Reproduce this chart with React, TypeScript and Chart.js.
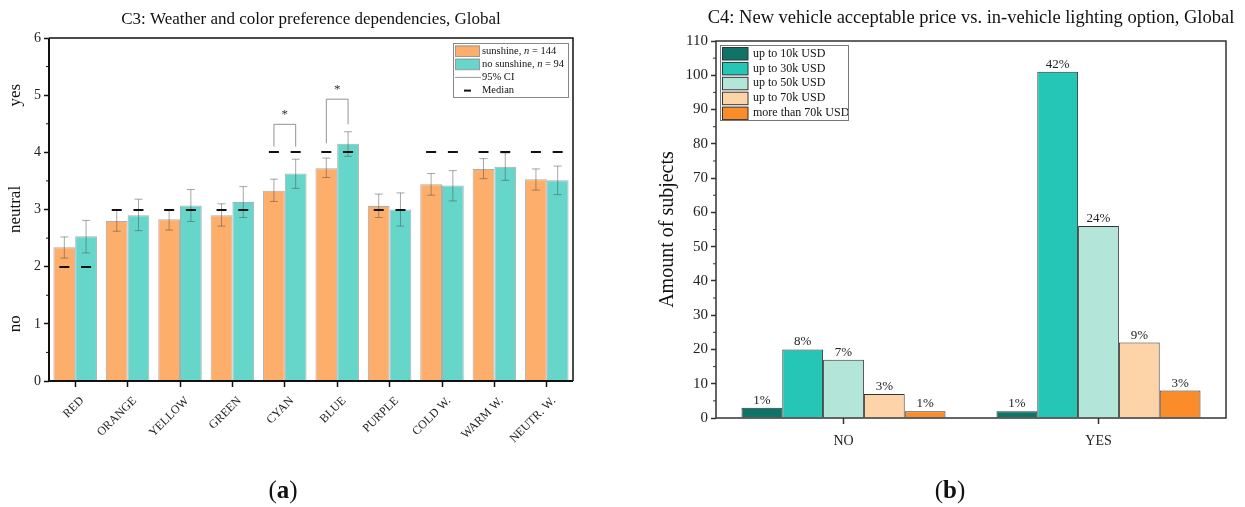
import React, { useEffect, useRef } from "react";
import { Chart, registerables } from "chart.js";

Chart.register(...registerables);

// ---------- Panel (a) data ----------
const colorCategories = ["RED", "ORANGE", "YELLOW", "GREEN", "CYAN", "BLUE", "PURPLE", "COLD W.", "WARM W.", "NEUTR. W."];
const sunshineMean = [2.34, 2.8, 2.83, 2.9, 3.33, 3.72, 3.06, 3.44, 3.71, 3.53];
const noSunshineMean = [2.53, 2.9, 3.07, 3.13, 3.63, 4.15, 3.0, 3.42, 3.75, 3.51];
const sunshineCiLow = [2.15, 2.62, 2.64, 2.71, 3.14, 3.56, 2.86, 3.25, 3.54, 3.34];
const sunshineCiHigh = [2.52, 2.99, 3.0, 3.1, 3.53, 3.9, 3.27, 3.63, 3.89, 3.71];
const noSunshineCiLow = [2.24, 2.63, 2.79, 2.86, 3.37, 3.93, 2.71, 3.15, 3.51, 3.26];
const noSunshineCiHigh = [2.81, 3.18, 3.35, 3.4, 3.88, 4.36, 3.29, 3.68, 3.99, 3.76];
const sunshineMedian = [2, 3, 3, 3, 4, 4, 3, 4, 4, 4];
const noSunshineMedian = [2, 3, 3, 3, 4, 4, 3, 4, 4, 4];
const significantIndex = [4, 5];
const bracketTop = [4.49, 4.93];
const bracketLeftEnd = [4.1, 4.16];
const bracketRightEnd = [4.1, 4.49];
const leftYTicks = [0, 1, 2, 3, 4, 5, 6];
const leftYWords = [
  { text: "no", value: 1 },
  { text: "neutral", value: 3 },
  { text: "yes", value: 5 },
];

// ---------- Panel (b) data ----------
const answerCategories = ["NO", "YES"];
const priceLabels = ["up to 10k USD", "up to 30k USD", "up to 50k USD", "up to 70k USD", "more than 70k USD"];
const upTo10k = [3, 2];
const upTo30k = [20, 101];
const upTo50k = [17, 56];
const upTo70k = [7, 22];
const moreThan70k = [2, 8];
const upTo10kPct = ["1%", "1%"];
const upTo30kPct = ["8%", "42%"];
const upTo50kPct = ["7%", "24%"];
const upTo70kPct = ["3%", "9%"];
const moreThan70kPct = ["1%", "3%"];

const SERIF = "'Liberation Serif', 'DejaVu Serif', serif";
const ORANGE = "rgb(253,174,107)";
const TEAL = "rgb(102,214,203)";
const PRICE_COLORS = ["rgb(14,116,104)", "rgb(38,198,182)", "rgb(179,230,216)", "rgb(253,212,168)", "rgb(251,140,42)"];

const leftDeco = {
  id: "leftDeco",
  afterDatasetsDraw(chart: any) {
    const ctx = chart.ctx;
    const ys = chart.scales.y;
    const m0 = chart.getDatasetMeta(0);
    const m1 = chart.getDatasetMeta(1);
    ctx.save();
    ctx.strokeStyle = "rgba(80,80,80,0.5)";
    ctx.lineWidth = 1;
    const ci = (x: number, lo: number, hi: number) => {
      const y1 = ys.getPixelForValue(lo);
      const y2 = ys.getPixelForValue(hi);
      ctx.beginPath();
      ctx.moveTo(x, y1);
      ctx.lineTo(x, y2);
      ctx.moveTo(x - 4, y1);
      ctx.lineTo(x + 4, y1);
      ctx.moveTo(x - 4, y2);
      ctx.lineTo(x + 4, y2);
      ctx.stroke();
    };
    colorCategories.forEach((_, i) => {
      ci(m0.data[i].x, sunshineCiLow[i], sunshineCiHigh[i]);
      ci(m1.data[i].x, noSunshineCiLow[i], noSunshineCiHigh[i]);
    });
    ctx.strokeStyle = "#111";
    ctx.lineWidth = 2;
    const med = (x: number, v: number) => {
      const y = Math.round(ys.getPixelForValue(v));
      ctx.beginPath();
      ctx.moveTo(x - 5, y);
      ctx.lineTo(x + 5, y);
      ctx.stroke();
    };
    colorCategories.forEach((_, i) => {
      med(m0.data[i].x, sunshineMedian[i]);
      med(m1.data[i].x, noSunshineMedian[i]);
    });
    ctx.strokeStyle = "rgba(120,120,120,0.8)";
    ctx.lineWidth = 1;
    significantIndex.forEach((idx, k) => {
      const xl = m0.data[idx].x;
      const xr = m1.data[idx].x;
      const yt = ys.getPixelForValue(bracketTop[k]);
      ctx.beginPath();
      ctx.moveTo(xl, ys.getPixelForValue(bracketLeftEnd[k]));
      ctx.lineTo(xl, yt);
      ctx.lineTo(xr, yt);
      ctx.lineTo(xr, ys.getPixelForValue(bracketRightEnd[k]));
      ctx.stroke();
      ctx.fillStyle = "#333";
      ctx.font = `13px ${SERIF}`;
      ctx.textAlign = "center";
      ctx.textBaseline = "middle";
      ctx.fillText("*", (xl + xr) / 2, yt - 10);
    });
    ctx.restore();
  },
  afterDraw(chart: any) {
    const ctx = chart.ctx;
    const { left, right, top, bottom } = chart.chartArea;
    const ys = chart.scales.y;
    const xs = chart.scales.x;
    ctx.save();
    ctx.strokeStyle = "#111";
    ctx.lineWidth = 1.5;
    ctx.beginPath();
    ctx.moveTo(left, top);
    ctx.lineTo(right, top);
    ctx.lineTo(right, bottom);
    ctx.stroke();
    ctx.lineWidth = 2;
    ctx.beginPath();
    ctx.moveTo(left, top);
    ctx.lineTo(left, bottom);
    ctx.lineTo(right, bottom);
    ctx.stroke();
    ctx.lineWidth = 1;
    for (let v = 0.5; v < 6; v += 1) {
      const y = ys.getPixelForValue(v);
      ctx.beginPath();
      ctx.moveTo(left - 3, y);
      ctx.lineTo(left, y);
      ctx.stroke();
    }
    // rotated category labels
    ctx.fillStyle = "#222";
    ctx.font = `12px ${SERIF}`;
    ctx.textAlign = "right";
    ctx.textBaseline = "middle";
    colorCategories.forEach((c, i) => {
      ctx.save();
      ctx.translate(xs.getPixelForValue(i) + 7, bottom + 18);
      ctx.rotate(-Math.PI / 4);
      ctx.fillText(c, 0, 0);
      ctx.restore();
    });
    ctx.fillStyle = "#111";
    ctx.font = `17px ${SERIF}`;
    ctx.textAlign = "center";
    ctx.textBaseline = "middle";
    leftYWords.forEach((w) => {
      ctx.save();
      ctx.translate(16, ys.getPixelForValue(w.value));
      ctx.rotate(-Math.PI / 2);
      ctx.fillText(w.text, 0, 0);
      ctx.restore();
    });
    ctx.font = `17px ${SERIF}`;
    ctx.fillText("C3: Weather and color preference dependencies, Global", 311, 20);
    // legend
    const lx = 453, ly = 43, lw = 115, lh = 54;
    ctx.fillStyle = "#fff";
    ctx.fillRect(lx, ly, lw, lh);
    ctx.strokeStyle = "#888";
    ctx.lineWidth = 1;
    ctx.strokeRect(lx + 0.5, ly + 0.5, lw, lh);
    const rows = [
      { kind: "box", color: ORANGE, a: "sunshine, ", n: "144" },
      { kind: "box", color: TEAL, a: "no sunshine, ", n: "94" },
      { kind: "line", text: "95% CI" },
      { kind: "median", text: "Median" },
    ];
    const FS = 10.5;
    ctx.textAlign = "left";
    rows.forEach((r: any, i) => {
      const cy = ly + 8 + i * 13.2;
      const tx = lx + 29;
      if (r.kind === "box") {
        ctx.fillStyle = r.color;
        ctx.fillRect(lx + 2, cy - 5.5, 25, 11);
        ctx.strokeStyle = "#999";
        ctx.strokeRect(lx + 2.5, cy - 5, 24, 10.5);
        ctx.fillStyle = "#111";
        ctx.font = `${FS}px ${SERIF}`;
        ctx.fillText(r.a, tx, cy);
        let x = tx + ctx.measureText(r.a).width;
        ctx.font = `italic ${FS}px ${SERIF}`;
        ctx.fillText("n", x, cy);
        x += ctx.measureText("n").width;
        ctx.font = `${FS}px ${SERIF}`;
        ctx.fillText(" = " + r.n, x, cy);
      } else if (r.kind === "line") {
        ctx.strokeStyle = "#999";
        ctx.beginPath();
        ctx.moveTo(lx + 2, cy);
        ctx.lineTo(lx + 28, cy);
        ctx.stroke();
        ctx.fillStyle = "#111";
        ctx.font = `${FS}px ${SERIF}`;
        ctx.fillText(r.text, tx, cy);
      } else {
        ctx.strokeStyle = "#111";
        ctx.lineWidth = 2;
        ctx.beginPath();
        ctx.moveTo(lx + 11, cy);
        ctx.lineTo(lx + 18, cy);
        ctx.stroke();
        ctx.lineWidth = 1;
        ctx.fillStyle = "#111";
        ctx.font = `${FS}px ${SERIF}`;
        ctx.fillText(r.text, tx, cy);
      }
    });
    ctx.restore();
  },
};

const pctLists = [upTo10kPct, upTo30kPct, upTo50kPct, upTo70kPct, moreThan70kPct];

const rightDeco = {
  id: "rightDeco",
  afterDatasetsDraw(chart: any) {
    const ctx = chart.ctx;
    ctx.save();
    ctx.fillStyle = "#222";
    ctx.font = `13px ${SERIF}`;
    ctx.textAlign = "center";
    ctx.textBaseline = "bottom";
    pctLists.forEach((lst, d) => {
      const meta = chart.getDatasetMeta(d);
      meta.data.forEach((el: any, i: number) => {
        ctx.fillText(lst[i], el.x, el.y - 1);
      });
    });
    ctx.restore();
  },
  afterDraw(chart: any) {
    const ctx = chart.ctx;
    const { left, right, top, bottom } = chart.chartArea;
    const ys = chart.scales.y;
    ctx.save();
    ctx.strokeStyle = "#333";
    ctx.lineWidth = 1.5;
    ctx.strokeRect(left, top, right - left, bottom - top);
    ctx.lineWidth = 1;
    for (let v = 5; v < 110; v += 10) {
      const y = ys.getPixelForValue(v);
      ctx.beginPath();
      ctx.moveTo(left - 3, y);
      ctx.lineTo(left, y);
      ctx.stroke();
    }
    ctx.fillStyle = "#111";
    ctx.textAlign = "center";
    ctx.textBaseline = "middle";
    ctx.font = `18.5px ${SERIF}`;
    ctx.fillText("C4: New vehicle acceptable price vs. in-vehicle lighting option, Global", 356, 18);
    ctx.save();
    ctx.translate(53, (top + bottom) / 2);
    ctx.rotate(-Math.PI / 2);
    ctx.font = `20px ${SERIF}`;
    ctx.fillText("Amount of subjects", 0, 0);
    ctx.restore();
    // legend
    const lx = left + 4, ly = top + 4, lw = 128, lh = 75;
    ctx.fillStyle = "#fff";
    ctx.fillRect(lx, ly, lw, lh);
    ctx.save();
    ctx.beginPath();
    ctx.rect(lx, ly, lw, lh);
    ctx.clip();
    ctx.textAlign = "left";
    priceLabels.forEach((t, i) => {
      const cy = ly + 8.5 + i * 14.9;
      ctx.fillStyle = PRICE_COLORS[i];
      ctx.fillRect(lx + 2, cy - 6, 26, 12.5);
      ctx.strokeStyle = "#333";
      ctx.strokeRect(lx + 2.5, cy - 6, 25.5, 12.5);
      ctx.fillStyle = "#111";
      ctx.font = `12px ${SERIF}`;
      ctx.fillText(t, lx + 33, cy);
    });
    ctx.restore();
    ctx.strokeStyle = "#777";
    ctx.lineWidth = 1;
    ctx.strokeRect(lx + 0.5, ly + 0.5, lw, lh);
    ctx.restore();
  },
};

export default function App() {
  const leftRef = useRef<HTMLCanvasElement>(null);
  const rightRef = useRef<HTMLCanvasElement>(null);

  useEffect(() => {
    const left = new Chart(leftRef.current!, {
      type: "bar",
      data: {
        labels: colorCategories,
        datasets: [
          { label: "sunshine", data: sunshineMean, backgroundColor: ORANGE, borderColor: "rgba(120,120,120,0.6)", borderWidth: 1 },
          { label: "no sunshine", data: noSunshineMean, backgroundColor: TEAL, borderColor: "rgba(120,120,120,0.6)", borderWidth: 1 },
        ],
      },
      options: {
        responsive: false,
        devicePixelRatio: 1,
        animation: false,
        layout: { padding: { top: 38, right: 37, left: 0, bottom: 0 } },
        plugins: { legend: { display: false }, tooltip: { enabled: false }, title: { display: false } },
        datasets: { bar: { categoryPercentage: 0.83, barPercentage: 1.0 } },
        scales: {
          x: {
            afterFit: (s: any) => { s.height = 126; },
            grid: { display: true, drawOnChartArea: false, offset: false, tickLength: 6, color: "#111", tickWidth: 1.5 },
            border: { display: false },
            ticks: { display: false, autoSkip: false },
          },
          y: {
            min: 0,
            max: 6,
            afterFit: (s: any) => { s.width = 49; },
            afterBuildTicks: (s: any) => { s.ticks = leftYTicks.map((v) => ({ value: v })); },
            grid: { display: true, drawOnChartArea: false, tickLength: 5, color: "#111", tickWidth: 1.5 },
            border: { display: false },
            ticks: { color: "#222", font: { family: SERIF, size: 14 }, padding: 3 },
          },
        },
      },
      plugins: [leftDeco],
    } as any);

    const right = new Chart(rightRef.current!, {
      type: "bar",
      data: {
        labels: answerCategories,
        datasets: [upTo10k, upTo30k, upTo50k, upTo70k, moreThan70k].map((d, i) => ({
          label: priceLabels[i],
          data: d,
          backgroundColor: PRICE_COLORS[i],
          borderColor: "#333",
          borderWidth: 1,
        })),
      },
      options: {
        responsive: false,
        devicePixelRatio: 1,
        animation: false,
        layout: { padding: { top: 41, right: 19, left: 0, bottom: 0 } },
        plugins: { legend: { display: false }, tooltip: { enabled: false }, title: { display: false } },
        datasets: { bar: { categoryPercentage: 0.8, barPercentage: 1.0 } },
        scales: {
          x: {
            afterFit: (s: any) => { s.height = 89; },
            grid: { display: true, drawOnChartArea: false, offset: false, tickLength: 6, color: "#333", tickWidth: 1.5 },
            border: { display: false },
            ticks: { color: "#222", font: { family: SERIF, size: 14 }, padding: 9 },
          },
          y: {
            min: 0,
            max: 110,
            afterFit: (s: any) => { s.width = 101; },
            ticks: { stepSize: 10, color: "#222", font: { family: SERIF, size: 15 }, padding: 3 },
            grid: { display: true, drawOnChartArea: false, tickLength: 5, color: "#333", tickWidth: 1.5 },
            border: { display: false },
          },
        },
      },
      plugins: [rightDeco],
    } as any);

    return () => {
      left.destroy();
      right.destroy();
    };
  }, []);

  const panelLabel = (cx: number, letter: string) => (
    <div
      style={{
        position: "absolute",
        left: cx - 30,
        width: 60,
        top: 474,
        textAlign: "center",
        fontFamily: SERIF,
        fontSize: 25,
        lineHeight: "32px",
        color: "#111",
      }}
    >
      (<b>{letter}</b>)
    </div>
  );

  return (
    <div style={{ position: "fixed", left: 0, top: 0, width: 1245, height: 507, background: "#fff", overflow: "hidden" }}>
      <canvas ref={leftRef} width={610} height={507} style={{ position: "absolute", left: 0, top: 0, width: 610, height: 507 }} />
      <canvas ref={rightRef} width={630} height={507} style={{ position: "absolute", left: 615, top: 0, width: 630, height: 507 }} />
      {panelLabel(283, "a")}
      {panelLabel(950, "b")}
    </div>
  );
}
